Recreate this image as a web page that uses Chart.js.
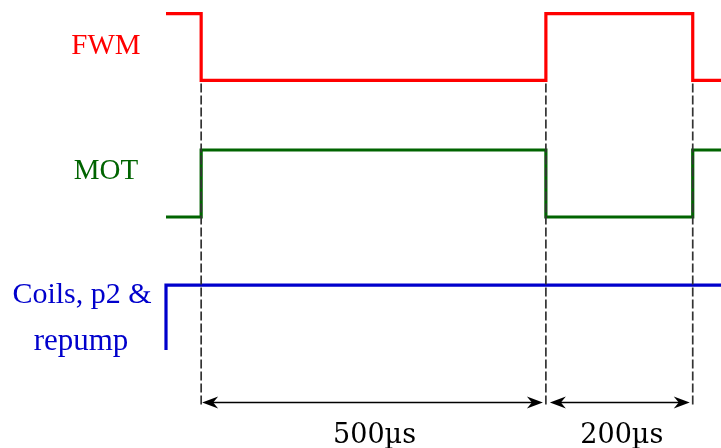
<!DOCTYPE html>
<html>
<head>
<meta charset="utf-8">
<script src="https://cdn.jsdelivr.net/npm/chart.js@4"></script>
<style>
  html, body { margin: 0; padding: 0; background: #fff; }
  canvas { display: block; }
</style>
</head>
<body>
<canvas id="timing" width="721" height="448"></canvas>
<script>
// edge times (µs) as drawn - the sketch is not exactly to scale
const edges = [0, 500, 713];
const tStart = -51;
const tEnd = 754;

// signal state in each interval: before edge0, between edges, after last edge
const fwmStates = [1, 0, 1, 0];
const motStates = [0, 1, 0, 1];

// y levels [low, high] for each trace
const fwmLevels = [4.0, 4.99];
const motLevels = [1.973, 2.967];
const coilsLevels = [0, 0.964];

const signalNames = ['FWM', 'MOT', 'Coils, p2 &', 'repump'];
const durationLabels = ['500µs', '200µs'];

const arrowLevel = -0.772;
const guideBottom = -0.82;

function stepPoints(states, levels) {
    const bounds = [tStart, ...edges, tEnd];
    const pts = [];
    states.forEach((s, i) => {
        pts.push({ x: bounds[i], y: levels[s] });
        pts.push({ x: bounds[i + 1], y: levels[s] });
    });
    return pts;
}

const coilsPoints = [
    { x: tStart, y: coilsLevels[0] },
    { x: tStart, y: coilsLevels[1] },
    { x: tEnd, y: coilsLevels[1] }
];

// dashed guides, arrows and text
const overlay = {
    id: 'overlay',
    afterDatasetsDraw(chart) {
        const c = chart.ctx;
        const xs = chart.scales.x;
        const ys = chart.scales.y;

        // dashed vertical guides
        c.save();
        c.strokeStyle = '#333';
        c.lineWidth = 1.7;
        c.setLineDash([9, 3]);
        edges.forEach(t => {
            const x = xs.getPixelForValue(t);
            c.beginPath();
            c.moveTo(x, ys.getPixelForValue(fwmLevels[0]) + 3);
            c.lineTo(x, ys.getPixelForValue(guideBottom));
            c.stroke();
        });
        c.restore();

        // double arrows between edges
        const ay = Math.round(ys.getPixelForValue(arrowLevel)) + 0.5;
        function head(x, dir) {
            c.beginPath();
            c.moveTo(x, ay);
            c.lineTo(x + dir * 16, ay - 6);
            c.lineTo(x + dir * 11, ay);
            c.lineTo(x + dir * 16, ay + 6);
            c.closePath();
            c.fill();
        }
        c.save();
        c.strokeStyle = '#000';
        c.fillStyle = '#000';
        c.lineWidth = 1.6;
        for (let i = 0; i < edges.length - 1; i++) {
            const x1 = xs.getPixelForValue(edges[i]) + (i === 0 ? 1 : 4);
            const x2 = xs.getPixelForValue(edges[i + 1]) - 3;
            c.beginPath();
            c.moveTo(x1 + 10, ay);
            c.lineTo(x2 - 10, ay);
            c.stroke();
            head(x1, 1);
            head(x2, -1);

            c.font = '27px "DejaVu Serif"';
            c.textAlign = 'center';
            c.textBaseline = 'alphabetic';
            c.fillText(durationLabels[i], (x1 + x2) / 2 + 2, ay + 40);
        }
        c.restore();

        // signal names
        c.save();
        c.font = '29px "Liberation Serif"';
        c.textBaseline = 'middle';
        c.textAlign = 'center';
        c.fillStyle = '#ff0000';
        c.fillText(signalNames[0], 106, ys.getPixelForValue((fwmLevels[0] + fwmLevels[1]) / 2) - 1);
        c.fillStyle = '#006400';
        c.fillText(signalNames[1], 106, ys.getPixelForValue((motLevels[0] + motLevels[1]) / 2) - 12);
        c.fillStyle = '#0000cc';
        c.font = '30px "Liberation Serif"';
        c.fillText(signalNames[2], 82, ys.getPixelForValue(coilsLevels[1]) + 10);
        c.font = '31px "Liberation Serif"';
        c.fillText(signalNames[3], 81, ys.getPixelForValue(coilsLevels[0]) - 8);
        c.restore();
    }
};

const ctx = document.getElementById('timing').getContext('2d');
const chart = new Chart(ctx, {
    type: 'line',
    data: {
        datasets: [{
            label: 'FWM',
            data: stepPoints(fwmStates, fwmLevels),
            borderColor: '#ff0000',
            borderWidth: 3.2
        }, {
            label: 'MOT',
            data: stepPoints(motStates, motLevels),
            borderColor: '#006400',
            borderWidth: 3.2
        }, {
            label: 'Coils, p2 & repump',
            data: coilsPoints,
            borderColor: '#0000cc',
            borderWidth: 3.2
        }]
    },
    options: {
        responsive: false,
        animation: false,
        devicePixelRatio: 1,
        layout: { padding: { left: 166, right: 0, top: 13, bottom: 0 } },
        elements: {
            point: { radius: 0 },
            line: { tension: 0, fill: false, borderJoinStyle: 'miter', borderCapStyle: 'butt' }
        },
        datasets: { line: { clip: false } },
        plugins: {
            legend: { display: false },
            tooltip: { enabled: false }
        },
        scales: {
            x: { type: 'linear', min: tStart, max: tEnd, display: false },
            y: { type: 'linear', min: -1.454, max: 5, display: false }
        }
    },
    plugins: [overlay]
});
</script>
</body>
</html>
